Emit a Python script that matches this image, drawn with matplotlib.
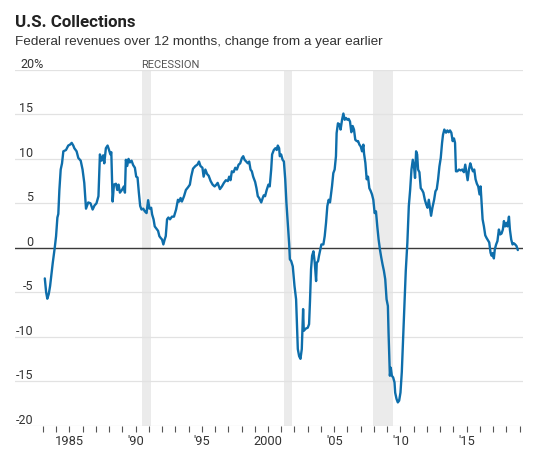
import matplotlib
matplotlib.use("Agg")
import matplotlib.pyplot as plt
from matplotlib.transforms import blended_transform_factory

# ---------------- data ----------------
years = [
    1983.15, 1983.25, 1983.34, 1983.45, 1983.55, 1983.75, 1983.9, 1984.0, 1984.1, 1984.17,
    1984.25, 1984.35, 1984.45, 1984.55, 1984.75, 1984.92, 1985.05, 1985.18, 1985.3, 1985.38,
    1985.55, 1985.68, 1985.86, 1986.0, 1986.13, 1986.26, 1986.43, 1986.6, 1986.76, 1986.9,
    1987.05, 1987.2, 1987.31, 1987.43, 1987.56, 1987.64, 1987.76, 1987.89, 1988.0, 1988.1,
    1988.17, 1988.27, 1988.37, 1988.52, 1988.62, 1988.72, 1988.82, 1988.97, 1989.12, 1989.2,
    1989.27, 1989.37, 1989.47, 1989.57, 1989.7, 1989.82, 1989.95, 1990.05, 1990.15, 1990.25,
    1990.35, 1990.45, 1990.58, 1990.7, 1990.83, 1990.95, 1991.05, 1991.18, 1991.25, 1991.36,
    1991.45, 1991.6, 1991.7, 1991.8, 1991.9, 1992.0, 1992.1, 1992.2, 1992.28, 1992.38,
    1992.48, 1992.6, 1992.75, 1992.9, 1993.06, 1993.2, 1993.3, 1993.4, 1993.5, 1993.66,
    1993.8, 1993.96, 1994.1, 1994.2, 1994.34, 1994.52, 1994.67, 1994.79, 1994.9, 1995.05,
    1995.14, 1995.27, 1995.4, 1995.52, 1995.67, 1995.82, 1995.97, 1996.1, 1996.2, 1996.37,
    1996.52, 1996.67, 1996.82, 1996.97, 1997.07, 1997.17, 1997.27, 1997.4, 1997.53, 1997.65,
    1997.78, 1997.9, 1998.03, 1998.13, 1998.23, 1998.36, 1998.48, 1998.58, 1998.68, 1998.78,
    1998.88, 1999.03, 1999.13, 1999.23, 1999.33, 1999.49, 1999.6, 1999.68, 1999.78, 1999.9,
    2000.03, 2000.13, 2000.24, 2000.31, 2000.44, 2000.56, 2000.66, 2000.74, 2000.84, 2000.89,
    2000.99, 2001.1, 2001.2, 2001.3, 2001.39, 2001.49, 2001.6, 2001.65, 2001.75, 2001.87,
    2002.0, 2002.12, 2002.2, 2002.25, 2002.35, 2002.45, 2002.55, 2002.6, 2002.65, 2002.7,
    2002.85, 2003.0, 2003.1, 2003.17, 2003.25, 2003.33, 2003.43, 2003.53, 2003.63, 2003.68,
    2003.78, 2003.85, 2003.92, 2004.03, 2004.18, 2004.28, 2004.38, 2004.48, 2004.58, 2004.68,
    2004.83, 2004.93, 2005.03, 2005.13, 2005.18, 2005.28, 2005.38, 2005.48, 2005.59, 2005.69,
    2005.79, 2005.89, 2005.99, 2006.09, 2006.19, 2006.29, 2006.39, 2006.49, 2006.59, 2006.7,
    2006.8, 2006.9, 2007.0, 2007.1, 2007.2, 2007.25, 2007.35, 2007.45, 2007.55, 2007.65,
    2007.75, 2007.85, 2007.95, 2008.05, 2008.15, 2008.25, 2008.35, 2008.45, 2008.55, 2008.65,
    2008.75, 2008.85, 2008.95, 2009.05, 2009.1, 2009.15, 2009.2, 2009.27, 2009.35, 2009.45,
    2009.55, 2009.6, 2009.7, 2009.8, 2009.9, 2010.0, 2010.1, 2010.2, 2010.3, 2010.4,
    2010.52, 2010.63, 2010.73, 2010.83, 2010.93, 2011.03, 2011.1, 2011.18, 2011.26, 2011.33,
    2011.43, 2011.53, 2011.63, 2011.73, 2011.84, 2011.94, 2012.04, 2012.14, 2012.24, 2012.31,
    2012.41, 2012.54, 2012.64, 2012.74, 2012.84, 2012.94, 2013.04, 2013.14, 2013.21, 2013.31,
    2013.44, 2013.54, 2013.64, 2013.74, 2013.84, 2013.94, 2014.04, 2014.12, 2014.19, 2014.29,
    2014.42, 2014.54, 2014.67, 2014.79, 2014.89, 2015.0, 2015.07, 2015.17, 2015.27, 2015.37,
    2015.47, 2015.57, 2015.67, 2015.77, 2015.87, 2015.97, 2016.05, 2016.12, 2016.2, 2016.3,
    2016.4, 2016.5, 2016.6, 2016.7, 2016.8, 2016.88, 2016.97, 2017.05, 2017.12, 2017.22,
    2017.32, 2017.43, 2017.53, 2017.63, 2017.73, 2017.81, 2017.9, 2018.01, 2018.08, 2018.19,
    2018.26, 2018.36, 2018.46, 2018.56, 2018.66, 2018.76, 2018.86,
]
revenue_change = [
    -3.45, -5.0, -5.73, -5.2, -4.3, -1.7, 0.0, 1.3, 3.4, 3.8,
    6.5, 8.8, 9.5, 10.85, 11.0, 11.5, 11.6, 11.8, 11.5, 11.2,
    10.85, 10.1, 9.8, 8.8, 7.3, 4.4, 5.1, 5.0, 4.3, 4.75,
    5.0, 5.8, 10.5, 9.8, 10.4, 9.5, 11.2, 11.5, 11.0, 10.5,
    10.75, 5.2, 7.1, 7.2, 6.5, 7.1, 6.2, 6.5, 6.9, 6.2,
    9.9, 9.2, 10.0, 9.6, 9.8, 9.3, 9.0, 8.0, 7.9, 6.2,
    4.7, 4.3, 4.4, 4.1, 3.9, 5.35, 4.4, 4.5, 3.75, 3.2,
    2.4, 2.1, 1.9, 1.3, 1.1, 0.93, 0.37, 0.93, 1.3, 3.2,
    3.4, 3.2, 3.5, 3.5, 4.3, 5.4, 5.2, 5.6, 5.2, 5.8,
    6.5, 6.8, 7.1, 8.0, 8.9, 9.2, 9.35, 9.7, 9.2, 9.0,
    8.0, 8.8, 8.3, 8.1, 7.5, 7.1, 6.9, 7.1, 7.3, 6.6,
    6.9, 7.3, 7.6, 7.5, 8.0, 7.6, 8.6, 8.5, 9.0, 8.8,
    9.35, 9.5, 10.1, 10.3, 9.9, 9.7, 9.5, 9.7, 8.8, 8.6,
    8.0, 7.4, 6.7, 5.8, 5.6, 5.1, 5.6, 5.9, 5.8, 6.5,
    7.1, 6.9, 8.8, 10.5, 11.0, 11.2, 11.0, 11.5, 11.2, 10.3,
    10.5, 9.9, 9.7, 7.7, 5.05, 2.8, 0.37, -1.3, -1.5, -2.1,
    -4.3, -5.8, -9.2, -11.4, -12.2, -12.5, -11.4, -9.2, -6.9, -9.35,
    -9.1, -9.0, -8.6, -6.0, -2.4, -0.9, -0.4, -1.7, -3.75, -1.7,
    -1.5, -0.9, -0.4, 0.37, 0.37, 1.3, 2.8, 4.7, 5.4, 5.1,
    6.9, 8.4, 8.8, 10.3, 12.9, 14.0, 13.9, 13.3, 14.4, 15.1,
    14.4, 14.6, 14.4, 14.5, 14.2, 13.0, 13.7, 13.3, 12.15, 12.0,
    12.0, 11.6, 11.4, 10.85, 11.6, 10.6, 9.55, 7.7, 8.0, 6.7,
    6.4, 6.0, 5.4, 3.9, 4.1, 2.4, 0.93, -0.2, -1.1, -1.9,
    -2.6, -3.55, -5.8, -6.55, -9.55, -11.8, -14.4, -13.5, -14.4, -14.6,
    -15.15, -16.3, -17.0, -17.4, -17.2, -16.3, -14.0, -10.3, -6.55, -2.6,
    0.56, 4.7, 6.5, 8.8, 9.9, 9.0, 7.85, 10.85, 10.5, 8.8,
    8.5, 6.7, 6.5, 6.2, 5.4, 4.9, 4.5, 5.4, 4.3, 3.6,
    4.5, 5.4, 6.35, 6.6, 7.7, 9.15, 10.1, 11.8, 12.7, 13.3,
    12.95, 13.2, 13.0, 13.2, 12.95, 12.0, 12.3, 11.8, 8.6, 8.6,
    8.8, 8.7, 8.8, 8.5, 9.35, 8.3, 7.6, 8.8, 9.5, 9.0,
    8.6, 8.8, 7.7, 7.2, 6.9, 6.0, 6.9, 5.2, 3.2, 2.4,
    1.4, 1.1, 0.85, 0.6, -0.56, -0.9, -0.6, -1.2, -0.2, 0.37,
    0.75, 2.05, 1.5, 1.6, 2.05, 3.0, 2.4, 2.8, 2.4, 3.5,
    2.05, 0.93, 0.37, 0.5, 0.37, 0.19, -0.26,
]

recession_starts = [1990.5, 2001.17, 2007.92]
recession_ends = [1991.17, 2001.83, 2009.42]

y_ticks = [20, 15, 10, 5, 0, -5, -10, -15, -20]
y_tick_labels = ["20%", "15", "10", "5", "0", "-5", "-10", "-15", "-20"]
x_major = [1985, 1990, 1995, 2000, 2005, 2010, 2015]
x_major_labels = ["1985", "'90", "'95", "2000", "'05", "'10", "'15"]
x_minor = list(range(1983, 2020))

title = "U.S. Collections"
subtitle = "Federal revenues over 12 months, change from a year earlier"

# ---------------- style ----------------
NARROW = ["Liberation Sans Narrow", "Roboto", "DejaVu Sans"]
REG = ["Liberation Sans", "DejaVu Sans"]
LINE = "#0e6eab"
GRID = "#e2e2e2"
TXT = "#333333"

W, H = 540, 458
fig = plt.figure(figsize=(W / 100, H / 100), dpi=100)
L, R, T, B = 15, 523, 70, 425.5
ax = fig.add_axes([L / W, 1 - B / H, (R - L) / W, (B - T) / H])
ax.set_xlim(1980.9, 2019.25)
ax.set_ylim(-20, 20)

for s, e in zip(recession_starts, recession_ends):
    ax.axvspan(s, e, color="#ebebeb", lw=0, zorder=0)

for v in y_ticks:
    if v == 0:
        ax.axhline(v, color="#3a3a3a", lw=1.0, zorder=3)
    else:
        ax.axhline(v, color=GRID, lw=0.9, zorder=1)

ax.plot(years, revenue_change, color=LINE, lw=1.7, zorder=4,
        solid_joinstyle="round", solid_capstyle="round")

for sp in ax.spines.values():
    sp.set_visible(False)
ax.set_yticks([])
ax.set_xticks(x_major)
ax.set_xticklabels(x_major_labels, fontfamily=NARROW, fontsize=9.3, color=TXT)
ax.set_xticks(x_minor, minor=True)
ax.tick_params(axis="x", which="both", direction="out", length=4, width=0.8,
               color="#555555", pad=3)

trans = blended_transform_factory(ax.transAxes, ax.transData)
xr = (32.9 - L) / (R - L)
xl = (20.5 - L) / (R - L)
for v, lab in zip(y_ticks, y_tick_labels):
    if lab.endswith("%"):
        ax.text(xl, v + 0.22, lab, transform=trans, ha="left", va="baseline",
                fontfamily=NARROW, fontsize=9, color=TXT)
    else:
        ax.text(xr, v + 0.22, lab, transform=trans, ha="right", va="baseline",
                fontfamily=NARROW, fontsize=9, color=TXT)

ax.text(recession_starts[0] - 0.05, 20.25, "RECESSION", ha="left", va="baseline",
        fontfamily=NARROW, fontsize=8, color="#555555")

fig.text(15 / W, 1 - 27 / H, title, ha="left", va="baseline",
         fontfamily=NARROW, fontweight="bold", fontsize=12.2, color="#222222")
fig.text(15 / W, 1 - 45 / H, subtitle, ha="left", va="baseline",
         fontfamily=REG, fontsize=9.7, color="#333333")

fig.savefig("out.png", dpi=100)
